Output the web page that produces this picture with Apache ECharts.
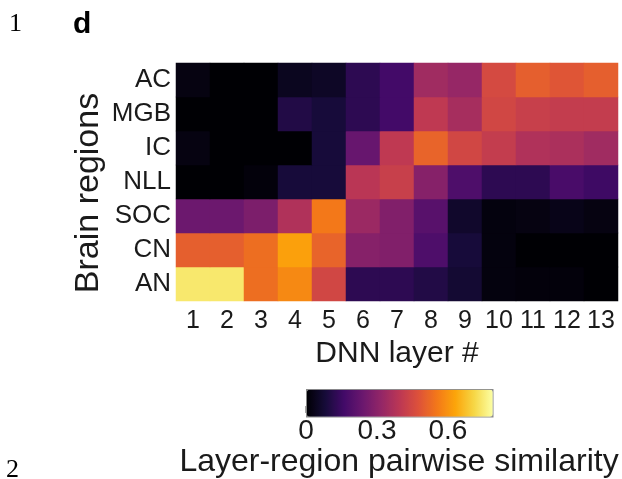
<!DOCTYPE html>
<html>
<head>
<meta charset="utf-8">
<script src="https://cdn.jsdelivr.net/npm/echarts@6/dist/echarts.min.js"></script>
<style>
html,body{margin:0;padding:0;background:#fff;}
#chart{width:622px;height:479px;}
</style>
</head>
<body>
<div id="chart"></div>
<script>
const layers = ['1','2','3','4','5','6','7','8','9','10','11','12','13'];
const regions = ['AN','CN','SOC','NLL','IC','MGB','AC']; // bottom to top
const AC  = [0.02,0,0,0.04,0.05,0.12,0.16,0.34,0.32,0.45,0.50,0.48,0.50];
const MGB = [0,0,0,0.10,0.08,0.12,0.16,0.40,0.35,0.44,0.42,0.41,0.41];
const IC  = [0.02,0,0,0,0.08,0.23,0.40,0.51,0.44,0.41,0.37,0.36,0.34];
const NLL = [0,0,0.01,0.08,0.08,0.39,0.42,0.29,0.18,0.12,0.12,0.17,0.15];
const SOC = [0.24,0.24,0.27,0.37,0.55,0.33,0.28,0.20,0.06,0.015,0.02,0.03,0.02];
const CN  = [0.50,0.50,0.53,0.62,0.51,0.29,0.28,0.18,0.08,0.015,0,0,0];
const AN  = [0.74,0.74,0.53,0.58,0.44,0.12,0.12,0.10,0.07,0.015,0.01,0.01,0];
const rows = {AN, CN, SOC, NLL, IC, MGB, AC};
const colorTicks = [0, 0.3, 0.6];
const vMin = 0, vMax = 0.786;
const inferno = ['#000004','#160b39','#420a68','#6a176e','#932667','#bc3754','#dd513a','#f37819','#fca50a','#f6d746','#fcffa4'];

const data = [];
regions.forEach((r, yi) => {
  rows[r].forEach((v, xi) => data.push([xi, yi, v]));
});

const FF = 'Liberation Sans, Arial, sans-serif';
const chart = echarts.init(document.getElementById('chart'));
const txt = '#1a1a1a';
chart.setOption({
  animation: false,
  backgroundColor: '#fff',
  textStyle: {fontFamily: FF},
  grid: [
    {left: 176, top: 63, width: 442, height: 238},
    {left: 306, top: 389, width: 186, height: 27}
  ],
  xAxis: [
    {type: 'category', gridIndex: 0, data: layers,
     axisLine: {show: false}, axisTick: {show: false},
     axisLabel: {fontSize: 25, color: txt, margin: 8, interval: 0},
     name: 'DNN layer #', nameLocation: 'middle', nameGap: 38,
     nameTextStyle: {fontSize: 30, color: txt}},
    {type: 'value', gridIndex: 1, min: vMin, max: vMax, interval: 0.3,
     axisLine: {show: false}, splitLine: {show: false},
     axisTick: {show: true, inside: true, length: 7, lineStyle: {color: '#888', width: 1.5},
       customValues: colorTicks},
     axisLabel: {fontSize: 28, color: txt, margin: 4,
       customValues: colorTicks, formatter: v => String(v)},
     name: 'Layer-region pairwise similarity', nameLocation: 'middle', nameGap: 26,
     nameTextStyle: {fontSize: 32, color: txt}}
  ],
  yAxis: [
    {type: 'category', gridIndex: 0, data: regions,
     axisLine: {show: false}, axisTick: {show: false},
     axisLabel: {fontSize: 26, color: txt, margin: 5}},
    {type: 'value', gridIndex: 1, min: 0, max: 1, show: false}
  ],
  visualMap: {
    type: 'continuous', seriesIndex: 0, min: vMin, max: vMax,
    orient: 'horizontal', left: 306, top: 389, itemWidth: 27, itemHeight: 186,
    padding: 0, calculable: false, text: null, showLabel: false,
    borderColor: '#8a8a8a', borderWidth: 1.5,
    inRange: {color: inferno}
  },
  graphic: [
    {type: 'text', left: 73, top: 10, style: {text: 'd', font: 'bold 30px ' + FF, fill: '#000'}},
    {type: 'text', left: 9, top: 11, style: {text: '1', font: '26px Liberation Serif, Times New Roman, serif', fill: '#000'}},
    {type: 'text', left: 6, top: 457, style: {text: '2', font: '26px Liberation Serif, Times New Roman, serif', fill: '#000'}},
    {type: 'text', x: 89, y: 193, rotation: Math.PI / 2,
     style: {text: 'Brain regions', font: '34px ' + FF, fill: txt, align: 'center', verticalAlign: 'middle'}}
  ],
  series: [{
    type: 'heatmap', xAxisIndex: 0, yAxisIndex: 0, data: data,
    itemStyle: {borderWidth: 0}, emphasis: {disabled: true}
  }]
});
</script>
</body>
</html>
